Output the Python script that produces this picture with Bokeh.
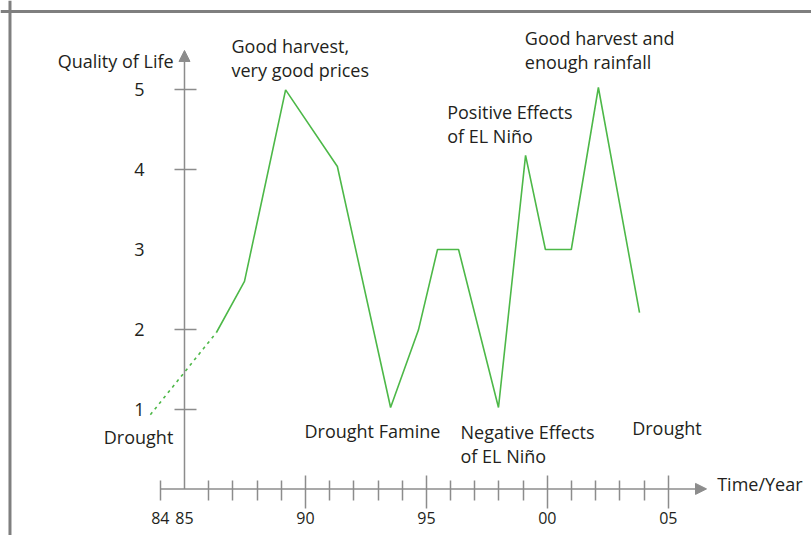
from bokeh.plotting import figure
from bokeh.models import Range1d, LinearAxis, FixedTicker, Arrow, NormalHead, Span, ColumnDataSource
from bokeh.core.properties import value
from bokeh.embed import file_html
from bokeh.resources import INLINE

# ---------------- data ----------------
years_dashed = [1983.59, 1986.32]
quality_dashed = [0.93, 1.96]
years = [1986.32, 1987.48, 1989.18, 1991.32, 1993.52, 1994.67, 1995.46,
         1996.33, 1997.98, 1999.10, 1999.92, 2000.99, 2002.11, 2003.81]
quality = [1.96, 2.6, 5.0, 4.04, 1.02, 1.99, 3.0,
           3.0, 1.02, 4.18, 3.0, 3.0, 5.03, 2.21]

x_major_ticks = [1990, 1995, 2000, 2005]
x_major_labels = ["90", "95", "00", "05"]
x_minor_ticks = [1984, 1986, 1987, 1988, 1989, 1991, 1992, 1993, 1994,
                 1996, 1997, 1998, 1999, 2001, 2002, 2003, 2004]
x_start_ticks = [1984, 1985]
x_start_labels = ["84", "85"]
y_ticks = [1, 2, 4, 5]
y_labels = ["1", "2", "4", "5"]
y_unmarked_ticks = [3]
y_unmarked_labels = ["3"]

ann_text = ["Quality of Life",
            "Good harvest,", "very good prices",
            "Good harvest and", "enough rainfall",
            "Positive Effects", "of EL Niño",
            "Drought",
            "Drought Famine",
            "Negative Effects", "of EL Niño",
            "Drought",
            "Time/Year"]

# ---------------- layout / style ----------------
ann_x = [1984.55,
         1986.943, 1986.943,
         1999.068, 1999.068,
         1995.86, 1995.86,
         1981.664,
         1989.961,
         1996.41, 1996.41,
         2003.507,
         2007.021]
ann_y = [5.264,
         5.452, 5.452,
         5.548, 5.548,
         4.625, 4.625,
         0.544,
         0.628,
         0.615, 0.615,
         0.657,
         -0.041]
LINE_STEP = 24
BASE_SHIFT = -8
ann_line = [0, 0, 1, 0, 1, 0, 1, 0, 0, 0, 1, 0, 0]
ann_dy = [BASE_SHIFT + LINE_STEP * k for k in ann_line]
ann_align = ["right"] + ["left"] * 12

FONT = "Open Sans"
TEXT = "#231f20"
AXIS = "#8c8c8c"
BORDER = "#7f7f7f"
GREEN = "#4db848"

p = figure(width=811, height=535, output_backend="svg", toolbar_location=None,
           x_range=Range1d(1977.394, 2010.920), y_range=Range1d(-0.5840, 6.1203),
           x_axis_type=None, y_axis_type=None, min_border=0)
p.title.visible = False
p.grid.visible = False
p.outline_line_color = None
p.background_fill_color = "white"
p.border_fill_color = "white"

# frame lines (top / left of the box)
p.add_layout(Span(location=1977.786, dimension="height", line_color=BORDER, line_width=3))
p.add_layout(Span(location=5.982, dimension="width", line_color=BORDER, line_width=3))

# axes lines with arrows
p.add_layout(Arrow(end=NormalHead(size=11, fill_color=AXIS, line_color=AXIS, line_width=1),
                   x_start=x_minor_ticks[0], y_start=0, x_end=2006.58, y_end=0,
                   line_color=AXIS, line_width=1.5))
p.add_layout(Arrow(end=NormalHead(size=11, fill_color=AXIS, line_color=AXIS, line_width=1),
                   x_start=x_start_ticks[1], y_start=0, x_end=x_start_ticks[1], y_end=5.494,
                   line_color=AXIS, line_width=1.5))

def style_axis(ax, size):
    ax.axis_line_color = None
    ax.major_tick_line_color = AXIS
    ax.major_tick_line_width = 1.5
    ax.minor_tick_line_color = AXIS
    ax.minor_tick_line_width = 1.5
    ax.major_label_text_font = FONT
    ax.major_label_text_font_size = size
    ax.major_label_text_color = TEXT

# x axis: ticks and labels 90..05
xa = LinearAxis(fixed_location=0,
                ticker=FixedTicker(ticks=x_major_ticks, minor_ticks=x_minor_ticks),
                major_label_overrides=dict(zip(x_major_ticks, x_major_labels)))
style_axis(xa, "16px")
xa.major_tick_in = 13
xa.major_tick_out = 20
xa.minor_tick_in = 8
xa.minor_tick_out = 12
xa.major_label_standoff = 3
p.add_layout(xa, "below")

# x axis: labels 84, 85 without ticks
xb = LinearAxis(fixed_location=0,
                ticker=FixedTicker(ticks=x_start_ticks, minor_ticks=[]),
                major_label_overrides=dict(zip(x_start_ticks, x_start_labels)))
style_axis(xb, "16px")
xb.major_tick_line_color = None
xb.major_tick_in = 0
xb.major_tick_out = 0
xb.minor_tick_line_color = None
xb.major_label_standoff = 23
p.add_layout(xb, "below")

# y axis: ticks 1,2,4,5
ya = LinearAxis(fixed_location=x_start_ticks[1],
                ticker=FixedTicker(ticks=y_ticks, minor_ticks=[]),
                major_label_overrides=dict(zip(y_ticks, y_labels)))
style_axis(ya, "18px")
ya.major_tick_in = 12
ya.major_tick_out = 10
ya.minor_tick_line_color = None
ya.major_label_standoff = 30
p.add_layout(ya, "left")

# y axis: label 3 without tick
yb = LinearAxis(fixed_location=x_start_ticks[1],
                ticker=FixedTicker(ticks=y_unmarked_ticks, minor_ticks=[]),
                major_label_overrides=dict(zip(y_unmarked_ticks, y_unmarked_labels)))
style_axis(yb, "18px")
yb.major_tick_line_color = None
yb.major_tick_in = 0
yb.major_tick_out = 0
yb.minor_tick_line_color = None
yb.major_label_standoff = 40
p.add_layout(yb, "left")

# data line
p.line(years_dashed, quality_dashed, line_color=GREEN, line_width=1.6, line_dash="3 4")
p.line(years, quality, line_color=GREEN, line_width=1.6)

# annotations
src = ColumnDataSource(dict(x=ann_x, y=ann_y, text=ann_text, dy=ann_dy, align=ann_align))
p.text(x="x", y="y", text="text", y_offset="dy", text_align="align", source=src,
       text_baseline="alphabetic", text_font=value(FONT), text_font_size=value("18px"),
       text_color=TEXT)

open("out.html", "w").write(file_html(p, INLINE))
